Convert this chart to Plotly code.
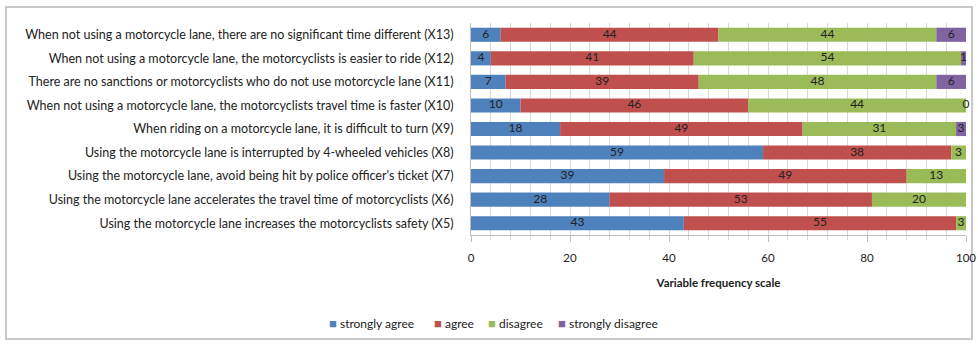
import plotly.graph_objects as go

categories = [
    "When not using a motorcycle lane, there are no significant time different (X13)",
    "When not using a motorcycle lane, the motorcyclists is easier to ride (X12)",
    "There are no sanctions or motorcyclists who do not use motorcycle lane (X11)",
    "When not using a motorcycle lane, the motorcyclists travel time is faster (X10)",
    "When riding on a motorcycle lane, it is difficult to turn (X9)",
    "Using the motorcycle lane is interrupted by 4-wheeled vehicles (X8)",
    "Using the motorcycle lane, avoid being hit by police officer's ticket (X7)",
    "Using the motorcycle lane accelerates the travel time of motorcyclists (X6)",
    "Using the motorcycle lane increases the motorcyclists safety (X5)",
]
strongly_agree = [6, 4, 7, 10, 18, 59, 39, 28, 43]
agree = [44, 41, 39, 46, 49, 38, 49, 53, 55]
disagree = [44, 54, 48, 44, 31, 3, 13, 20, 3]
strongly_disagree = [6, 1, 6, 0, 3, None, None, None, None]

series = [
    ("strongly agree", strongly_agree, "#4F81BD"),
    ("agree", agree, "#C0504D"),
    ("disagree", disagree, "#9BBB59"),
    ("strongly disagree", strongly_disagree, "#8064A2"),
]
x_tick_vals = [0, 20, 40, 60, 80, 100]
x_title = "Variable frequency scale"

FONT = "Lato, Carlito, Calibri, sans-serif"
TXT = "#222222"
L, R, T, B = 471, 12, 23, 110
PW, PH = 978 - L - R, 345 - T - B

fig = go.Figure()

XMAX = 100
starts = [0] * len(categories)
label_x, label_y, label_t = [], [], []
for name, vals, color in series:
    xs = [v if v is not None else 0 for v in vals]
    fig.add_trace(go.Bar(
        y=categories, x=xs, base=starts[:], orientation="h", name=name,
        marker=dict(color=color, line=dict(width=0)), width=0.6,
        hoverinfo="x+name", showlegend=False,
    ))
    for i, v in enumerate(vals):
        if v is not None:
            a = min(starts[i], XMAX)
            b = min(starts[i] + v, XMAX)
            label_x.append((a + b) / 2)
            label_y.append(categories[i])
            label_t.append(str(v))
    starts = [s + x for s, x in zip(starts, xs)]

fig.add_trace(go.Scatter(
    x=label_x, y=label_y, text=label_t, mode="text",
    textfont=dict(family=FONT, size=12, color=TXT),
    showlegend=False, hoverinfo="skip", cliponaxis=False,
))

fig.update_layout(
    width=978, height=345,
    barmode="overlay",
    paper_bgcolor="white", plot_bgcolor="white",
    margin=dict(l=L, r=R, t=T, b=B),
    font=dict(family=FONT, size=12, color=TXT),
    showlegend=False,
)
fig.update_xaxes(
    range=[0, XMAX], tickvals=x_tick_vals, ticks="outside", ticklen=6, tickcolor="#BFBFBF",
    showline=True, linecolor="#BFBFBF", linewidth=1,
    showgrid=True, gridcolor="#D9D9D9", gridwidth=1,
    minor=dict(dtick=4, showgrid=True, gridcolor="#D9D9D9", ticks="outside", ticklen=4, tickcolor="#D9D9D9"),
    tickfont=dict(family=FONT, size=11.5, color=TXT),
    ticklabelstandoff=6,
    title=dict(text="<b>" + x_title + "</b>", font=dict(family=FONT, size=11.5, color=TXT), standoff=16),
    zeroline=False, fixedrange=True, automargin=False,
)
fig.update_yaxes(
    categoryorder="array", categoryarray=categories[::-1],
    showline=True, linecolor="#BFBFBF", linewidth=1, ticks="", showgrid=False,
    tickfont=dict(family=FONT, size=12.5, color=TXT), ticklabelstandoff=14,
    fixedrange=True, automargin=False,
)
fig.add_shape(type="rect", xref="paper", yref="paper",
              x0=(6 - L) / PW, x1=(972 - L) / PW,
              y0=(345 - B - 339) / PH, y1=(345 - B - 7) / PH,
              line=dict(color="#C8C8C8", width=2), layer="below")

# legend built from annotations (compact spacing like the original)
legend_x = [327, 432, 486, 556]
ly = (345 - B - 323) / PH
for (name, vals, color), px in zip(series, legend_x):
    fig.add_annotation(
        xref="paper", yref="paper", x=(px - L) / PW, y=ly, xanchor="left", yanchor="middle",
        text="<span style='color:%s;font-size:13px'>■</span> %s" % (color, name),
        showarrow=False, font=dict(family=FONT, size=12, color=TXT),
    )

fig.write_html("out.html", config={"displayModeBar": False},
               post_script="document.body.style.margin='0';document.body.style.overflow='hidden';")
